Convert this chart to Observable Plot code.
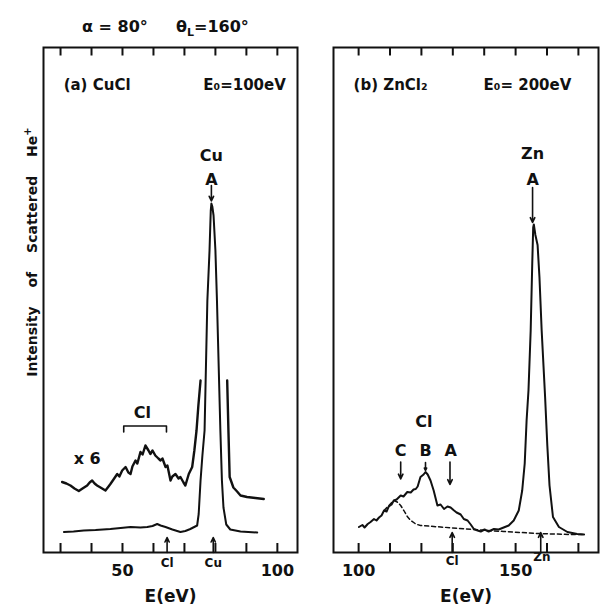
<!DOCTYPE html>
<html>
<head>
<meta charset="utf-8">
<script src="https://cdn.jsdelivr.net/npm/d3@7"></script>
<script src="https://cdn.jsdelivr.net/npm/@observablehq/plot@0.6"></script>
<style>
  html, body { margin: 0; padding: 0; background: #fff; }
  #wrap { position: relative; width: 601px; height: 606px; font-family: "DejaVu Sans", sans-serif; color: #111; }
  #wrap svg { position: absolute; top: 0; overflow: visible; }
  .title { position: absolute; top: 17px; font-size: 16px; font-weight: bold; white-space: nowrap; }
  .ylab { position: absolute; left: 31px; top: 252px; transform: translate(-50%, -50%) rotate(-90deg); font-size: 14px; font-weight: bold; white-space: nowrap; word-spacing: 14px; }
</style>
</head>
<body>
<div id="wrap">
  <div class="title" style="left:82px">α = 80°</div>
  <div class="title" style="left:176px">θ<sub style="font-size:11px">L</sub>=160°</div>
  <div class="ylab">Intensity of Scattered He<sup style="font-size:10px">+</sup></div>
</div>
<script>
// ---------- Panel (a) CuCl, E0 = 100 eV ----------
const cuclE = [31.1,34.2,37.5,41.3,46.1,49.4,52.6,55.8,58.0,59.7,61.2,62.3,63.9,66.1,68.7,70.3,71.9,74.1,74.6,75.2,75.8,76.5,77.4,78.1,78.5,78.7,79.0,79.4,80.0,80.5,81.6,82.1,82.6,83.5,84.8,88.1,93.5];
const cuclI = [4.1,4.2,4.4,4.5,4.7,4.9,5.1,5.0,5.1,5.3,5.7,5.4,5.1,4.6,4.1,4.3,4.7,5.4,7.7,14.4,19.4,24.4,50.4,60.4,68.4,69.8,69.2,67.4,60.4,50.4,24.4,14.4,9.0,5.6,4.6,4.2,4.0];
// x6 magnified trace (clipped around the Cu peak)
const x6LeftE = [30.5,31.9,33.2,34.5,35.9,37.1,38.6,39.4,40.2,41.0,41.8,42.9,44.5,45.5,46.1,47.1,48.3,49.0,49.9,51.0,51.9,52.6,53.2,54.2,54.8,55.8,56.5,57.4,58.4,59.0,59.7,60.6,61.6,62.3,62.9,63.9,64.5,65.5,66.1,67.1,68.1,68.7,69.7,70.3,71.4,72.5,73.2,73.9,74.5,75.2];
const x6LeftI = [14.1,13.8,13.4,12.8,12.3,12.8,13.4,14.0,14.4,13.8,13.4,13.0,12.4,13.2,13.7,14.6,15.7,15.2,16.4,17.1,16.0,15.7,17.2,18.4,17.8,20.1,19.6,21.4,20.4,19.7,20.4,19.4,18.8,18.4,18.8,17.1,17.4,14.4,15.2,15.7,14.8,15.1,14.0,13.4,15.7,17.1,20.4,24.4,29.4,34.4];
const x6RightE = [83.8,84.2,84.6,85.8,87.0,88.1,90.2,92.9,95.6];
const x6RightI = [34.4,24.4,15.1,13.0,12.2,11.4,11.1,10.9,10.7];

// ---------- Panel (b) ZnCl2, E0 = 200 eV ----------
const znclE = [100.1,101.2,101.9,102.9,103.8,104.9,105.7,106.5,107.3,108.1,108.9,109.6,110.5,111.2,112.1,113.4,114.3,115.5,116.6,117.5,118.2,118.8,119.7,120.7,121.3,122.0,122.9,123.9,125.1,126.1,127.2,128.3,129.3,130.4,131.2,132.5,133.5,134.7,135.7,136.7,137.9,138.9,140.1,141.4,143.1,144.6,146.2,147.8,149.4,151.0,152.1,152.9,153.5,154.1,154.8,155.3,155.6,155.8,156.3,157.0,157.6,158.3,159.4,160.1,160.8,161.9,163.8,166.5,169.6,171.8];
const znclI = [5.1,5.5,5.0,5.7,6.1,6.7,6.4,7.0,7.4,8.4,8.2,9.2,9.6,10.4,10.6,11.4,11.2,12.1,12.0,12.6,12.7,13.2,15.1,15.6,16.1,15.6,14.4,12.4,9.4,9.6,8.7,9.2,9.0,8.4,8.0,7.6,6.7,6.4,5.6,4.7,4.4,4.2,4.6,4.2,4.7,4.6,5.0,5.4,6.4,8.4,12.4,17.8,26.4,32.4,44.4,57.8,65.0,65.6,63.5,61.5,55.0,44.4,31.0,21.4,13.4,7.1,5.1,4.1,3.7,3.6];
// dashed background under the Cl structure
const bgE = [108.1,111.2,112.3,113.4,114.4,115.5,116.6,118.2,119.7,126.1,136.7,146.2,156.9,167.5,171.8];
const bgI = [8.4,10.4,10.1,9.4,8.4,7.2,6.4,5.7,5.4,5.1,4.6,4.2,3.8,3.6,3.6];

// Axis ticks / labels
const ticksA = [30,40,50,60,70,80,90,100];
const labelsA = [50,100];
const ticksB = [100,110,120,130,140,150,160,170];
const labelsB = [100,150];

const zip = (xs, ys) => xs.map((x, i) => ({x, y: ys[i]}));
const INK = "#111";
const FONT = "DejaVu Sans, sans-serif";

function framedTicks(ticks, yTop) {
  return [
    Plot.ruleX(ticks, {y1: 0, y2: 1.8, stroke: INK, strokeWidth: 2}),
    Plot.ruleX(ticks, {y1: yTop - 1.7, y2: yTop, stroke: INK, strokeWidth: 2})
  ];
}
function arrowMarks(list) {
  return Plot.arrow(list, {x1: "x", x2: "x", y1: "y1", y2: "y2", stroke: INK, strokeWidth: 1.6, headLength: 5, headAngle: 50});
}
function textMarks(list, size, anchor) {
  return Plot.text(list, {x: "x", y: "y", text: "t", fontSize: size, fontWeight: "bold", fill: INK, textAnchor: anchor || "middle", fontFamily: FONT});
}

const yTop = 101;
const common = {
  height: 606, marginTop: 47, marginBottom: 54,
  y: {domain: [0, yTop], axis: null},
  style: {fontFamily: FONT, background: "transparent", overflow: "visible"}
};

const plotA = Plot.plot({
  ...common, width: 300, marginLeft: 43, marginRight: 3,
  x: {domain: [24.5, 106.5], axis: null},
  marks: [
    Plot.frame({stroke: INK, strokeWidth: 2}),
    ...framedTicks(ticksA, yTop),
    Plot.axisX(labelsA, {label: null, tickSize: 0, tickPadding: 12, fontSize: 16, fontWeight: "bold", tickFormat: d => String(d), fill: INK}),
    Plot.text(["E(eV)"], {frameAnchor: "bottom", dy: 49, fontSize: 17, fontWeight: "bold", fill: INK}),
    Plot.line(zip(cuclE, cuclI), {x: "x", y: "y", stroke: INK, strokeWidth: 2}),
    Plot.line(zip(x6LeftE, x6LeftI), {x: "x", y: "y", stroke: INK, strokeWidth: 2.4}),
    Plot.line(zip(x6RightE, x6RightI), {x: "x", y: "y", stroke: INK, strokeWidth: 2.4}),
    Plot.line([{x:50.4,y:24.1},{x:50.4,y:25.3},{x:64.2,y:25.3},{x:64.2,y:24.1}], {x: "x", y: "y", stroke: INK, strokeWidth: 1.6}),
    arrowMarks([{x: 78.7, y1: 73.4, y2: 70.3}, {x: 64.4, y1: 0, y2: 3.0}, {x: 79.3, y1: 0, y2: 3.0}]),
    textMarks([{x: 78.7, y: 79.4, t: "Cu"}, {x: 78.7, y: 74.6, t: "A"}, {x: 56.4, y: 28.0, t: "Cl"}, {x: 38.6, y: 18.8, t: "x 6"}], 16),
    textMarks([{x: 64.4, y: -2.2, t: "Cl"}, {x: 79.3, y: -2.2, t: "Cu"}], 12),
    textMarks([{x: 31.0, y: 93.4, t: "(a) CuCl"}, {x: 76.1, y: 93.4, t: "E₀=100eV"}], 15, "start")
  ]
});

const plotB = Plot.plot({
  ...common, width: 301, marginLeft: 33, marginRight: 3,
  x: {domain: [92, 176.4], axis: null},
  marks: [
    Plot.frame({stroke: INK, strokeWidth: 2}),
    ...framedTicks(ticksB, yTop),
    Plot.axisX(labelsB, {label: null, tickSize: 0, tickPadding: 12, fontSize: 16, fontWeight: "bold", tickFormat: d => String(d), fill: INK}),
    Plot.text(["E(eV)"], {frameAnchor: "bottom", dy: 49, fontSize: 17, fontWeight: "bold", fill: INK}),
    Plot.line(zip(bgE, bgI), {x: "x", y: "y", stroke: INK, strokeWidth: 1.5, strokeDasharray: "4,3"}),
    Plot.line(zip(znclE, znclI), {x: "x", y: "y", stroke: INK, strokeWidth: 2}),
    arrowMarks([{x: 155.4, y1: 73.0, y2: 66.0}, {x: 113.4, y1: 18.1, y2: 14.7}, {x: 121.3, y1: 18.0, y2: 16.4}, {x: 129.1, y1: 18.1, y2: 13.6}, {x: 129.8, y1: 0, y2: 4.0}, {x: 158.0, y1: 0, y2: 4.0}]),
    textMarks([{x: 155.4, y: 79.8, t: "Zn"}, {x: 155.4, y: 74.6, t: "A"}, {x: 120.8, y: 26.1, t: "Cl"}, {x: 113.4, y: 20.4, t: "C"}, {x: 121.3, y: 20.4, t: "B"}, {x: 129.3, y: 20.4, t: "A"}], 16),
    textMarks([{x: 129.8, y: -1.8, t: "Cl"}, {x: 158.4, y: -1.0, t: "Zn"}], 12),
    textMarks([{x: 98.4, y: 93.4, t: "(b) ZnCl₂"}, {x: 139.8, y: 93.4, t: "E₀= 200eV"}], 15, "start")
  ]
});

const wrap = document.getElementById("wrap");
plotA.style.left = "0px";
plotB.style.left = "300px";
wrap.appendChild(plotA);
wrap.appendChild(plotB);
</script>
</body>
</html>
